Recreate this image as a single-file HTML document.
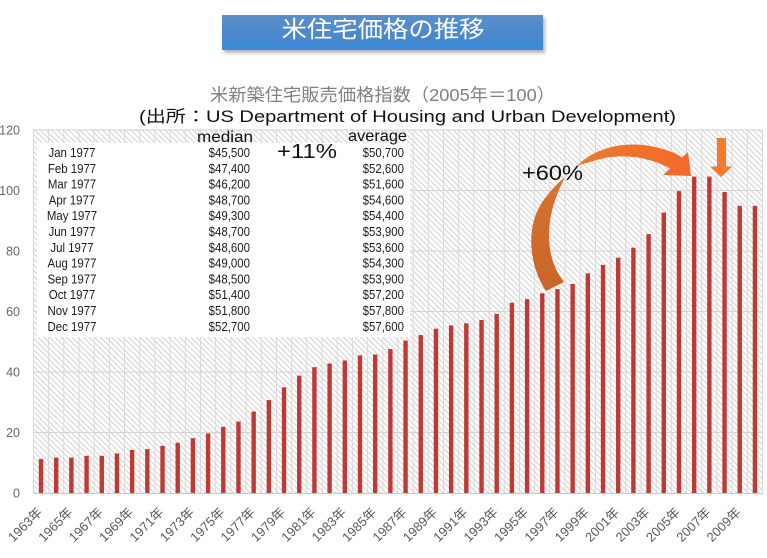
<!DOCTYPE html>
<html><head><meta charset="utf-8"><style>
html,body{margin:0;padding:0;background:#fff;}
svg{display:block;}
text{font-family:"Liberation Sans","Noto Sans CJK JP",sans-serif;}
</style></head><body>
<svg width="767" height="558" viewBox="0 0 767 558" xmlns="http://www.w3.org/2000/svg">
<defs>
<pattern id="hatch" width="4" height="4" patternUnits="userSpaceOnUse" patternTransform="rotate(-45)">
<rect x="0" y="0" width="1.1" height="4" fill="#d4d4d4"/>
</pattern>
<linearGradient id="ban" x1="0" y1="0" x2="0" y2="1">
<stop offset="0" stop-color="#5a8fca"/>
<stop offset="0.75" stop-color="#4687cc"/>
<stop offset="0.8" stop-color="#3b8ad8"/>
<stop offset="1" stop-color="#3d8bd6"/>
</linearGradient>
<linearGradient id="arrA" x1="0" y1="1" x2="0" y2="0">
<stop offset="0" stop-color="#c8652a"/>
<stop offset="1" stop-color="#d8742e"/>
</linearGradient>
<linearGradient id="arrB" x1="0" y1="0" x2="1" y2="0">
<stop offset="0" stop-color="#ea7a2c"/>
<stop offset="1" stop-color="#f4692a"/>
</linearGradient>
<filter id="blur" x="-10%" y="-30%" width="120%" height="160%"><feGaussianBlur stdDeviation="1.5"/></filter>
</defs>

<!-- Banner -->
<rect x="224" y="18" width="321" height="35" fill="#777" opacity="0.55" filter="url(#blur)"/>
<rect x="222" y="15" width="321" height="35" fill="url(#ban)"/>
<text x="383" y="37" font-size="23" fill="#ffffff" text-anchor="middle" textLength="203" lengthAdjust="spacingAndGlyphs">米住宅価格の推移</text>

<!-- Titles -->
<text x="210" y="101" font-size="17.5" fill="#808080" textLength="345" lengthAdjust="spacingAndGlyphs">米新築住宅販売価格指数（2005年＝100）</text>
<text x="139" y="122" font-size="16.5" fill="#111" textLength="537" lengthAdjust="spacingAndGlyphs">(出所：US Department of Housing and Urban Development)</text>

<!-- Plot area -->
<rect x="33.4" y="129" width="729.6" height="364" fill="url(#hatch)"/>
<path d="M33.4 129V493M48.59 129V493M63.78 129V493M78.97 129V493M94.16 129V493M109.35 129V493M124.54 129V493M139.73 129V493M154.92 129V493M170.11 129V493M185.3 129V493M200.49 129V493M215.68 129V493M230.87 129V493M246.06 129V493M261.25 129V493M276.44 129V493M291.63 129V493M306.82 129V493M322.01 129V493M337.2 129V493M352.39 129V493M367.58 129V493M382.77 129V493M397.96 129V493M413.15 129V493M428.34 129V493M443.53 129V493M458.72 129V493M473.91 129V493M489.1 129V493M504.29 129V493M519.48 129V493M534.67 129V493M549.86 129V493M565.05 129V493M580.24 129V493M595.43 129V493M610.62 129V493M625.81 129V493M641 129V493M656.19 129V493M671.38 129V493M686.57 129V493M701.76 129V493M716.95 129V493M732.14 129V493M747.33 129V493M762.52 129V493" stroke="#d9d9d9" stroke-width="1" fill="none"/>
<path d="M33.4 130H763M33.4 190.5H763M33.4 251H763M33.4 311.5H763M33.4 372H763M33.4 432.5H763" stroke="#d4d4d4" stroke-width="1" fill="none"/>

<!-- Bars -->
<g fill="#c03a35">
<rect x="38.8" y="459.1" width="4.4" height="33.9"/>
<rect x="53.99" y="457.6" width="4.4" height="35.4"/>
<rect x="69.18" y="457.6" width="4.4" height="35.4"/>
<rect x="84.37" y="455.8" width="4.4" height="37.2"/>
<rect x="99.56" y="455.8" width="4.4" height="37.2"/>
<rect x="114.75" y="453.4" width="4.4" height="39.6"/>
<rect x="129.94" y="450" width="4.4" height="43"/>
<rect x="145.13" y="449.1" width="4.4" height="43.9"/>
<rect x="160.32" y="445.8" width="4.4" height="47.2"/>
<rect x="175.51" y="442.8" width="4.4" height="50.2"/>
<rect x="190.7" y="438.2" width="4.4" height="54.8"/>
<rect x="205.89" y="433.4" width="4.4" height="59.6"/>
<rect x="221.08" y="426.8" width="4.4" height="66.2"/>
<rect x="236.27" y="421.6" width="4.4" height="71.4"/>
<rect x="251.46" y="411.6" width="4.4" height="81.4"/>
<rect x="266.65" y="400.1" width="4.4" height="92.9"/>
<rect x="281.84" y="387.4" width="4.4" height="105.6"/>
<rect x="297.03" y="375.6" width="4.4" height="117.4"/>
<rect x="312.22" y="367.2" width="4.4" height="125.8"/>
<rect x="327.41" y="363.5" width="4.4" height="129.5"/>
<rect x="342.6" y="360.5" width="4.4" height="132.5"/>
<rect x="357.79" y="355.4" width="4.4" height="137.6"/>
<rect x="372.98" y="354.5" width="4.4" height="138.5"/>
<rect x="388.17" y="349" width="4.4" height="144"/>
<rect x="403.36" y="340.5" width="4.4" height="152.5"/>
<rect x="418.55" y="335.1" width="4.4" height="157.9"/>
<rect x="433.74" y="328.7" width="4.4" height="164.3"/>
<rect x="448.93" y="325.4" width="4.4" height="167.6"/>
<rect x="464.12" y="323.3" width="4.4" height="169.7"/>
<rect x="479.31" y="320" width="4.4" height="173"/>
<rect x="494.5" y="313.9" width="4.4" height="179.1"/>
<rect x="509.69" y="302.7" width="4.4" height="190.3"/>
<rect x="524.88" y="299.1" width="4.4" height="193.9"/>
<rect x="540.07" y="293.3" width="4.4" height="199.7"/>
<rect x="555.26" y="289.1" width="4.4" height="203.9"/>
<rect x="570.45" y="284" width="4.4" height="209"/>
<rect x="585.64" y="273.4" width="4.4" height="219.6"/>
<rect x="600.83" y="264.9" width="4.4" height="228.1"/>
<rect x="616.02" y="257.7" width="4.4" height="235.3"/>
<rect x="631.21" y="247.7" width="4.4" height="245.3"/>
<rect x="646.4" y="234.1" width="4.4" height="258.9"/>
<rect x="661.59" y="212.6" width="4.4" height="280.4"/>
<rect x="676.78" y="191.1" width="4.4" height="301.9"/>
<rect x="691.97" y="176.6" width="4.4" height="316.4"/>
<rect x="707.16" y="176.6" width="4.4" height="316.4"/>
<rect x="722.35" y="192" width="4.4" height="301"/>
<rect x="737.54" y="205.9" width="4.4" height="287.1"/>
<rect x="752.73" y="205.9" width="4.4" height="287.1"/>
</g>
<line x1="33.4" y1="493.5" x2="763" y2="493.5" stroke="#c8c8c8" stroke-width="1"/>

<!-- Y labels -->
<g font-size="12.5" fill="#666" text-anchor="end">
<text x="20" y="134.5">120</text>
<text x="20" y="195">100</text>
<text x="20" y="255.5">80</text>
<text x="20" y="316">60</text>
<text x="20" y="376.5">40</text>
<text x="20" y="437">20</text>
<text x="20" y="497.5">0</text>
</g>

<!-- X labels -->
<g font-size="13" fill="#595959" text-anchor="end">
<text transform="translate(43,513) rotate(-45)">1963年</text>
<text transform="translate(73.4,513) rotate(-45)">1965年</text>
<text transform="translate(103.8,513) rotate(-45)">1967年</text>
<text transform="translate(134.1,513) rotate(-45)">1969年</text>
<text transform="translate(164.5,513) rotate(-45)">1971年</text>
<text transform="translate(194.9,513) rotate(-45)">1973年</text>
<text transform="translate(225.3,513) rotate(-45)">1975年</text>
<text transform="translate(255.7,513) rotate(-45)">1977年</text>
<text transform="translate(286,513) rotate(-45)">1979年</text>
<text transform="translate(316.4,513) rotate(-45)">1981年</text>
<text transform="translate(346.8,513) rotate(-45)">1983年</text>
<text transform="translate(377.2,513) rotate(-45)">1985年</text>
<text transform="translate(407.6,513) rotate(-45)">1987年</text>
<text transform="translate(437.9,513) rotate(-45)">1989年</text>
<text transform="translate(468.3,513) rotate(-45)">1991年</text>
<text transform="translate(498.7,513) rotate(-45)">1993年</text>
<text transform="translate(529.1,513) rotate(-45)">1995年</text>
<text transform="translate(559.5,513) rotate(-45)">1997年</text>
<text transform="translate(589.8,513) rotate(-45)">1999年</text>
<text transform="translate(620.2,513) rotate(-45)">2001年</text>
<text transform="translate(650.6,513) rotate(-45)">2003年</text>
<text transform="translate(681,513) rotate(-45)">2005年</text>
<text transform="translate(711.4,513) rotate(-45)">2007年</text>
<text transform="translate(741.7,513) rotate(-45)">2009年</text>
</g>

<!-- White table box -->
<rect x="37" y="143" width="373" height="194" fill="#ffffff"/>
<text x="197" y="142" font-size="16" fill="#111" textLength="56" lengthAdjust="spacingAndGlyphs">median</text>
<text x="348" y="141" font-size="16" fill="#111" textLength="59" lengthAdjust="spacingAndGlyphs">average</text>
<text x="277" y="158" font-size="20" fill="#111" textLength="60" lengthAdjust="spacingAndGlyphs">+11%</text>

<g font-size="13" fill="#1a1a1a">
<g transform="translate(72,0) scale(0.88,1)" text-anchor="middle">
<text x="0" y="157">Jan 1977</text>
<text x="0" y="172.8">Feb 1977</text>
<text x="0" y="188.6">Mar 1977</text>
<text x="0" y="204.4">Apr 1977</text>
<text x="0" y="220.2">May 1977</text>
<text x="0" y="236">Jun 1977</text>
<text x="0" y="251.8">Jul 1977</text>
<text x="0" y="267.6">Aug 1977</text>
<text x="0" y="283.4">Sep 1977</text>
<text x="0" y="299.2">Oct 1977</text>
<text x="0" y="315">Nov 1977</text>
<text x="0" y="330.8">Dec 1977</text>
</g>
<g transform="translate(250,0) scale(0.88,1)" text-anchor="end">
<text x="0" y="157">$45,500</text>
<text x="0" y="172.8">$47,400</text>
<text x="0" y="188.6">$46,200</text>
<text x="0" y="204.4">$48,700</text>
<text x="0" y="220.2">$49,300</text>
<text x="0" y="236">$48,700</text>
<text x="0" y="251.8">$48,600</text>
<text x="0" y="267.6">$49,000</text>
<text x="0" y="283.4">$48,500</text>
<text x="0" y="299.2">$51,400</text>
<text x="0" y="315">$51,800</text>
<text x="0" y="330.8">$52,700</text>
</g>
<g transform="translate(404,0) scale(0.88,1)" text-anchor="end">
<text x="0" y="157">$50,700</text>
<text x="0" y="172.8">$52,600</text>
<text x="0" y="188.6">$51,600</text>
<text x="0" y="204.4">$54,600</text>
<text x="0" y="220.2">$54,400</text>
<text x="0" y="236">$53,900</text>
<text x="0" y="251.8">$53,600</text>
<text x="0" y="267.6">$54,300</text>
<text x="0" y="283.4">$53,900</text>
<text x="0" y="299.2">$57,200</text>
<text x="0" y="315">$57,800</text>
<text x="0" y="330.8">$57,600</text>
</g>
</g>

<!-- Arrows -->
<path d="M546,291 C529,266 525,226 543,201 C550,191 557,184 565,177 C556,195 548,216 549,240 C550,258 556,272 564,282 Z" fill="url(#arrA)"/>
<path d="M578,165 C595,148 625,140 655,147 C668,150 676,153 682,157.5 L688,152 L691,176 L663,175 L670,168.6 C655,160 630,153 605,158 C595,160 585,164 578,165 Z" fill="url(#arrB)"/>
<path d="M717,138 L726,138 L726,166.5 L732,166.5 L721,177 L710,166.5 L717,166.5 Z" fill="#f47a2e"/>

<text x="522" y="180" font-size="21" fill="#111" textLength="61" lengthAdjust="spacingAndGlyphs">+60%</text>
</svg>
</body></html>
